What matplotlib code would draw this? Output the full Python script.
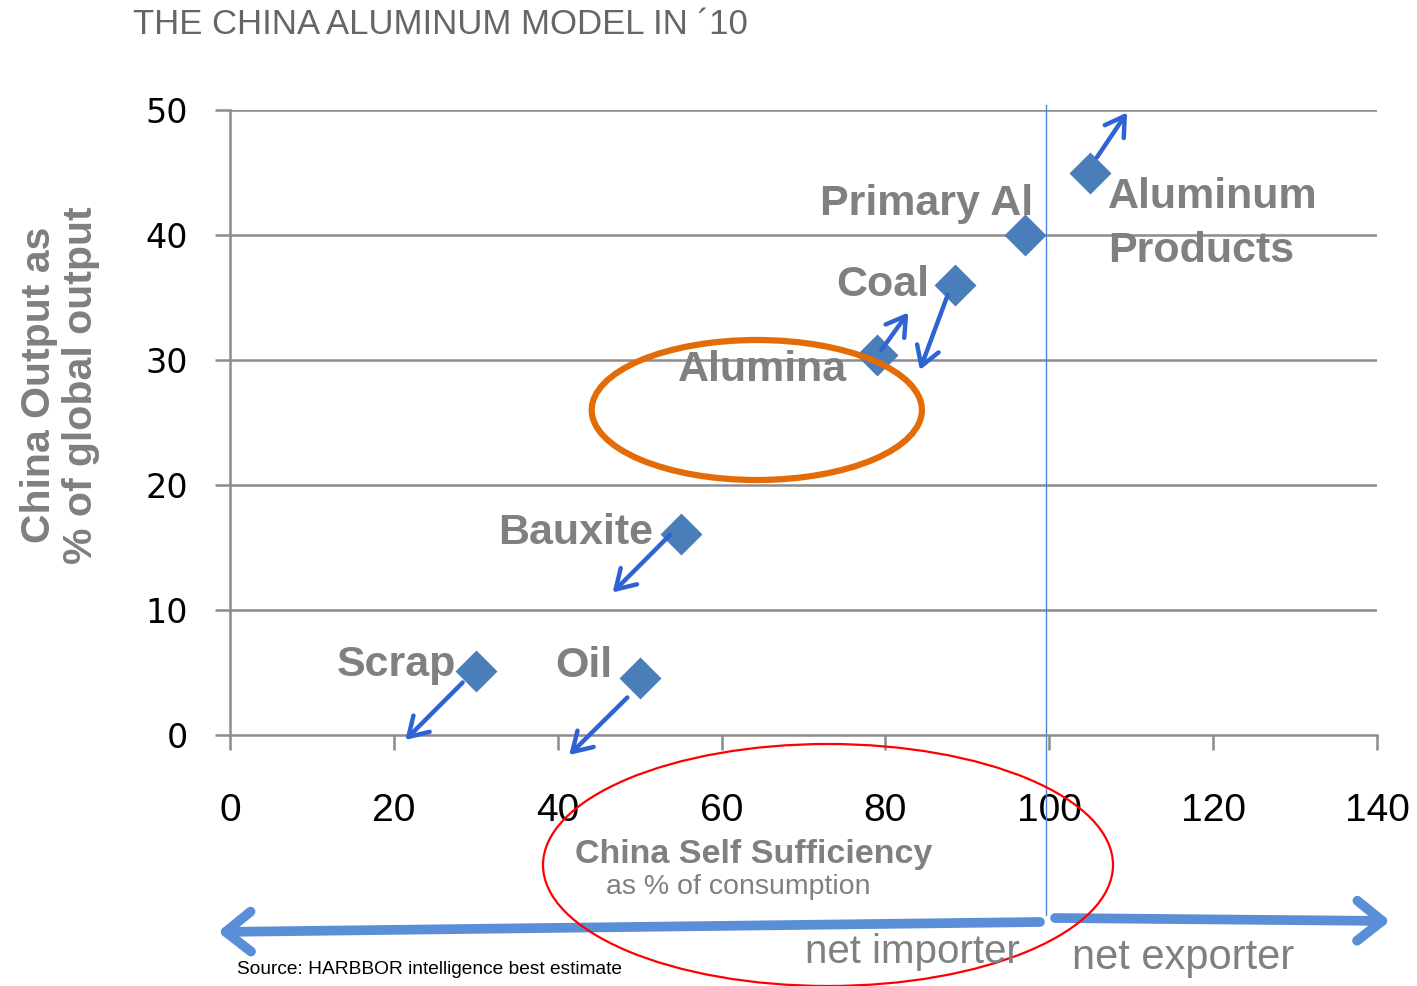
import matplotlib
matplotlib.use('Agg')
import matplotlib.pyplot as plt
from matplotlib.patches import Ellipse

# data
materials = ['Scrap', 'Oil', 'Bauxite', 'Alumina', 'Coal', 'Primary Al', 'Aluminum\nProducts']
self_suff = [30, 50, 55, 79, 88.5, 97, 105]           # % of consumption
output_share = [5.1, 4.6, 16.1, 30.4, 36, 40, 45]     # % of global output
# trend arrows (start x, start y, end x, end y)
trend_start_x = [28.4, 48.5, 53.7, 79.5, 87.6, 105.8]
trend_start_y = [4.2, 3.0, 16.0, 30.8, 35.2, 46.2]
trend_end_x = [21.4, 41.4, 46.7, 82.8, 84.2, 109.5]
trend_end_y = [-0.4, -1.6, 11.4, 33.8, 29.2, 49.8]
xticks = [0, 20, 40, 60, 80, 100, 120, 140]
yticks = [0, 10, 20, 30, 40, 50]

# label layout: (x, y, ha) per material
label_pos = [(27.6, 5.6, 'right'), (46.7, 5.5, 'right'), (51.6, 16.2, 'right'),
             (54.7, 29.2, 'left'), (85.3, 36.0, 'right'), (98.0, 42.5, 'right'),
             (107.2, 40.9, 'left')]

grey_line = '#8c8c8c'
marker_blue = '#4a7ebb'
arrow_blue = '#2f62d2'
text_grey = '#808080'
font = 'Liberation Sans'

fig = plt.figure(figsize=(14.17, 9.86), dpi=100)
ax = fig.add_axes([230 / 1417, 251 / 986, 1147 / 1417, 625 / 986])

ax.set_xlim(0, 140)
ax.set_ylim(0, 50)
ax.set_xticks(xticks)
ax.set_yticks(yticks)
ax.set_xticklabels([str(t) for t in xticks], family=font, fontsize=28)
ax.set_yticklabels([str(t) for t in yticks], family='DejaVu Sans', fontsize=24)
ax.tick_params(axis='x', direction='out', length=11, width=1.8, color=grey_line, pad=31)
ax.tick_params(axis='y', direction='out', length=11, width=1.8, color=grey_line, pad=19)
for s in ['top', 'right']:
    ax.spines[s].set_visible(False)
for s in ['left', 'bottom']:
    ax.spines[s].set_color(grey_line)
    ax.spines[s].set_linewidth(1.8)
for t in yticks[1:]:
    ax.axhline(t, color=grey_line, lw=1.8, zorder=1)

# divider at 100 %
ax.plot([99.6, 99.6], [-14.4, 50.4], color='#4a86d8', lw=1, clip_on=False, zorder=2)

ax.plot(self_suff, output_share, 'D', color=marker_blue, ms=21, mec='none', zorder=4)

for sx, sy, ex, ey in zip(trend_start_x, trend_start_y, trend_end_x, trend_end_y):
    ax.annotate('', xy=(ex, ey), xytext=(sx, sy), annotation_clip=False,
                arrowprops=dict(arrowstyle='->,head_length=0.9,head_width=0.55',
                                mutation_scale=15, color=arrow_blue, lw=3.2,
                                shrinkA=0, shrinkB=0), zorder=5)

for name, (lx, ly, ha) in zip(materials, label_pos):
    ax.text(lx, ly, name, ha=ha, va='center', family=font, fontweight='bold',
            fontsize=31, color=text_grey, linespacing=1.45, zorder=3)

ax.add_patch(Ellipse((64.3, 26), 40.3, 11.2, fill=False, ec='#e36c09', lw=4.5,
                     zorder=6, clip_on=False))

# y axis title
ax.set_ylabel('China Output as\n% of global output', family=font,
              fontweight='bold', fontsize=29.5, color='#7f7f7f', linespacing=1.15)
ax.yaxis.set_label_coords(-0.113, 0.56)

fig.text(133 / 1417, 1 - 25 / 986, 'THE CHINA ALUMINUM MODEL IN \u00b410', family=font,
         fontsize=25, color='#666666', ha='left', va='center')

fig.text(575 / 1417, 1 - 855 / 986, 'China Self Sufficiency', family=font,
         fontweight='bold', fontsize=24.5, color=text_grey, ha='left', va='center')
fig.text(606 / 1417, 1 - 887 / 986, 'as % of consumption', family=font,
         fontsize=20.5, color=text_grey, ha='left', va='center')

# importer / exporter arrows
ax.annotate('', xy=(218, 986 - 932), xycoords='figure pixels',
            xytext=(1040, 986 - 922), textcoords='figure pixels',
            arrowprops=dict(arrowstyle='->,head_length=0.9,head_width=0.72',
                            mutation_scale=20, color='#5a8fd8', lw=7,
                            shrinkA=0, shrinkB=0))
ax.annotate('', xy=(1390, 986 - 921), xycoords='figure pixels',
            xytext=(1055, 986 - 918), textcoords='figure pixels',
            arrowprops=dict(arrowstyle='->,head_length=0.9,head_width=0.72',
                            mutation_scale=20, color='#5a8fd8', lw=7,
                            shrinkA=0, shrinkB=0))

fig.text(1020 / 1417, 1 - 952 / 986, 'net importer', family=font, fontsize=29,
         color=text_grey, ha='right', va='center')
fig.text(1072 / 1417, 1 - 958 / 986, 'net exporter', family=font, fontsize=30,
         color=text_grey, ha='left', va='center')
fig.text(237 / 1417, 1 - 969 / 986, 'Source: HARBBOR intelligence best estimate',
         family=font, fontsize=13.8, color='black', ha='left', va='center')

fig.add_artist(Ellipse((828 / 1417, 1 - 865 / 986), 570 / 1417, 242 / 986,
                       transform=fig.transFigure, fill=False, ec='red', lw=1.6))

fig.savefig('out.png', dpi=100)
